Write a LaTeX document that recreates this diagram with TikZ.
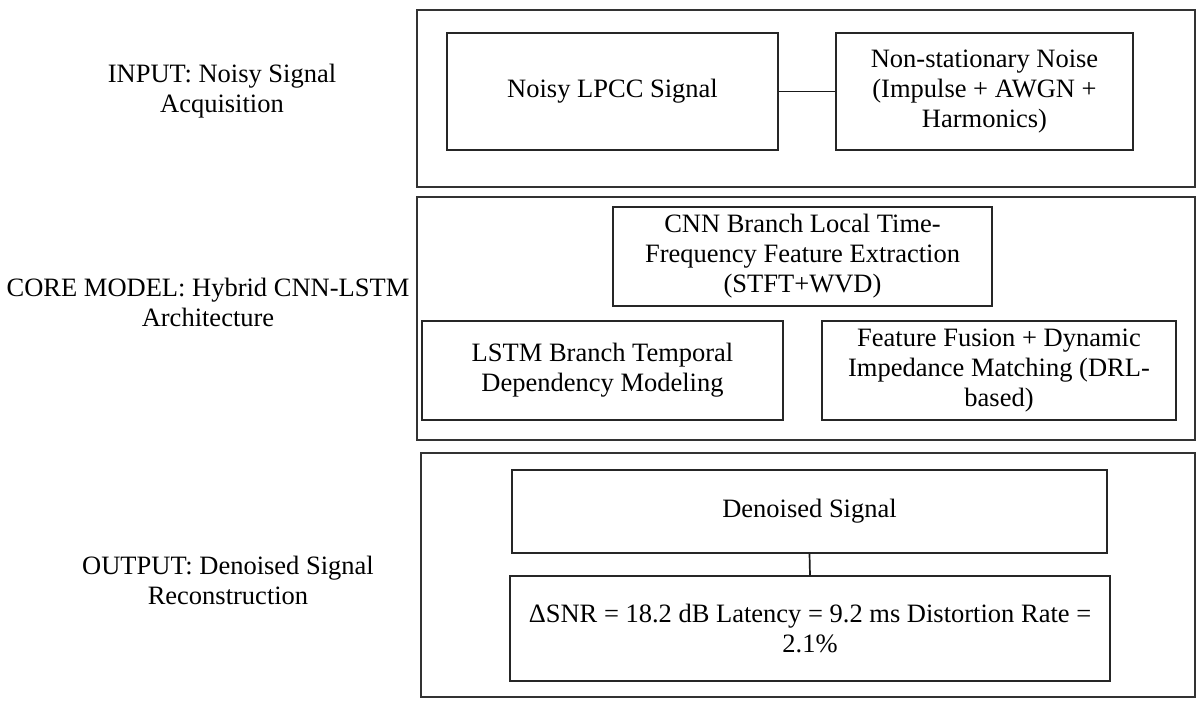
\documentclass[tikz,border=0pt]{standalone}
\usepackage{fontspec}
\setmainfont{Liberation Serif}
\begin{document}
\begin{tikzpicture}[x=1pt,y=-1pt,
  outer/.style={draw=black!80,line width=1.3pt,fill=white,inner sep=0pt},
  inbox/.style={draw=black!85,line width=1.2pt,fill=white,align=center,inner sep=0pt,
    font=\fontsize{26.5}{30}\selectfont},
  lbl/.style={align=center,inner sep=0pt,font=\fontsize{26.5}{30}\selectfont},
  conn/.style={draw=black!90,line width=1.7pt}]
\useasboundingbox (0,0) rectangle (1200,707);
\fill[white] (0,0) rectangle (1200,707);
% outer panels
\node[outer,minimum width=778pt,minimum height=177pt] (p1) at (806,98.5) {};
\node[outer,minimum width=778pt,minimum height=243pt] (p2) at (806,318.5) {};
\node[outer,minimum width=774pt,minimum height=244pt] (p3) at (808,575) {};
% left labels
\node[lbl] (l1) at (222,91) {INPUT: Noisy Signal\\Acquisition};
\node[lbl] (l2) at (208,302) {CORE MODEL: Hybrid CNN-LSTM\\Architecture};
\node[lbl] (l3) at (228,580) {OUTPUT: Denoised Signal\\Reconstruction};
% input panel
\node[inbox,minimum width=331pt,minimum height=117pt] (noisy) at (612.5,91.5) {Noisy LPCC Signal};
\node[inbox,minimum width=297pt,minimum height=117pt] (noise) at (984.5,91.5) {Non-stationary Noise\\(Impulse + AWGN +\\Harmonics)};
\draw[conn] (noisy.east) -- (noise.west);
% core panel
\node[inbox,minimum width=379pt,minimum height=99pt] (cnn) at (802.5,256.5) {CNN Branch Local Time-\\Frequency Feature Extraction\\(STFT+WVD)};
\node[inbox,minimum width=361pt,minimum height=99pt] (lstm) at (602.5,370.5) {LSTM Branch Temporal\\Dependency Modeling};
\node[inbox,minimum width=354pt,minimum height=99pt] (fus) at (999,370.5) {Feature Fusion + Dynamic\\Impedance Matching (DRL-\\based)};
% output panel
\node[inbox,minimum width=595pt,minimum height=83pt] (den) at (809.5,511.5) {Denoised Signal};
\node[inbox,minimum width=600pt,minimum height=105pt] (met) at (810,628.5) {ΔSNR = 18.2 dB Latency = 9.2 ms Distortion Rate =\\2.1\%};
\draw[conn] (den.south) -- (met.north);
\end{tikzpicture}
\end{document}
